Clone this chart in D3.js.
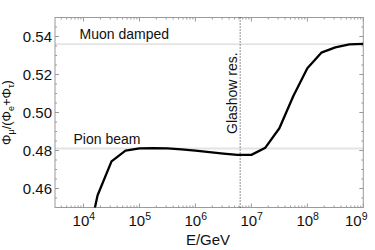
<!DOCTYPE html>
<html><head><meta charset="utf-8">
<script src="https://cdn.jsdelivr.net/npm/d3@7"></script>
<style>body{margin:0;background:#fff}svg{display:block}text{font-family:"Liberation Sans",Arial,sans-serif}</style>
</head><body>
<svg id="c" width="375" height="250"></svg>
<script>
// data: log10(E/GeV) and flux ratio
const logE = [4.0, 4.25, 4.5, 4.75, 5.0, 5.25, 5.5, 5.75, 6.0, 6.25, 6.5, 6.75, 7.0, 7.25, 7.5, 7.75, 8.0, 8.25, 8.5, 8.75, 9.0];
const ratio = [0.422, 0.4563, 0.4743, 0.4799, 0.4811, 0.4812, 0.4811, 0.4806, 0.4799, 0.4792, 0.4784, 0.4777, 0.4777, 0.4815, 0.4917, 0.5087, 0.5233, 0.5315, 0.5343, 0.5359, 0.5361];
const xTickExps = [4, 5, 6, 7, 8, 9];
const yTicks = [0.46, 0.48, 0.50, 0.52, 0.54];
const refLines = [{label: "Muon damped", value: 0.536}, {label: "Pion beam", value: 0.481}];
const glashowE = 6.3e6;
const glashowLabel = "Glashow res.";

const svg = d3.select("#c");
const L = 55, R = 363.3, T = 17.5, B = 207.5;
const x = d3.scaleLog().domain([Math.pow(10, 3.49), 1e9]).range([L, R]);
const y = d3.scaleLinear().domain([0.45, 0.55]).range([B, T]);

const defs = svg.append("defs");
defs.append("clipPath").attr("id", "clip").append("rect")
  .attr("x", L).attr("y", T).attr("width", R - L).attr("height", B - T);

// reference lines
svg.append("line").attr("x1", L).attr("x2", R)
  .attr("y1", y(refLines[1].value)).attr("y2", y(refLines[1].value))
  .attr("stroke", "#e4e4e4").attr("stroke-width", 2);
svg.append("line").attr("x1", L).attr("x2", R)
  .attr("y1", y(refLines[0].value)).attr("y2", y(refLines[0].value))
  .attr("stroke", "#cfcfcf").attr("stroke-width", 1);

// frame & ticks
const tickCol = "#9a9a9a";
const g = svg.append("g");
g.append("rect").attr("x", L).attr("y", T).attr("width", R - L).attr("height", B - T)
  .attr("fill", "none").attr("stroke", tickCol).attr("stroke-width", 1);

const xMinor = [];
for (let k = 3; k <= 8; k++) for (let m = 2; m <= 9; m++) { const v = m * Math.pow(10, k); if (v >= x.domain()[0] && v <= 1e9) xMinor.push(v); }
xMinor.forEach(v => {
  const px = x(v);
  g.append("line").attr("x1", px).attr("x2", px).attr("y1", B).attr("y2", B - 2).attr("stroke", tickCol);
  g.append("line").attr("x1", px).attr("x2", px).attr("y1", T).attr("y2", T + 2).attr("stroke", tickCol);
});
xTickExps.forEach(e => {
  const px = x(Math.pow(10, e));
  g.append("line").attr("x1", px).attr("x2", px).attr("y1", B).attr("y2", B - 4).attr("stroke", tickCol);
  g.append("line").attr("x1", px).attr("x2", px).attr("y1", T).attr("y2", T + 4).attr("stroke", tickCol);
});
const yMinor = d3.range(0.45, 0.5501, 0.005);
yMinor.forEach(v => {
  const py = y(v);
  g.append("line").attr("x1", L).attr("x2", L + 2).attr("y1", py).attr("y2", py).attr("stroke", tickCol);
  g.append("line").attr("x1", R).attr("x2", R - 2).attr("y1", py).attr("y2", py).attr("stroke", tickCol);
});
yTicks.forEach(v => {
  const py = y(v);
  g.append("line").attr("x1", L).attr("x2", L + 4).attr("y1", py).attr("y2", py).attr("stroke", tickCol);
  g.append("line").attr("x1", R).attr("x2", R - 4).attr("y1", py).attr("y2", py).attr("stroke", tickCol);
  svg.append("text").attr("x", L - 3).attr("y", py + 5.3).attr("text-anchor", "end")
    .attr("font-size", 15).attr("fill", "#111").text(d3.format(".2f")(v));
});

// x tick labels
xTickExps.forEach((e, i) => {
  const px = x(Math.pow(10, e));
  const t = svg.append("text").attr("y", 226).attr("font-size", 15).attr("fill", "#111");
  t.append("tspan").text("10");
  t.append("tspan").attr("font-size", 10.5).attr("dy", -6.5).text(e);
  if (i === xTickExps.length - 1) t.attr("x", 367.5).attr("text-anchor", "end");
  else t.attr("x", px + 0.3).attr("text-anchor", "middle");
});

svg.append("text").attr("x", 208).attr("y", 245).attr("text-anchor", "middle")
  .attr("font-size", 15).attr("fill", "#111").text("E/GeV");

// y label
const yl = svg.append("text").attr("transform", `translate(11,${(T + B) / 2}) rotate(-90)`)
  .attr("text-anchor", "middle").attr("font-size", 13).attr("fill", "#111");
yl.append("tspan").text("Φ");
yl.append("tspan").attr("font-size", 9).attr("dy", 3).text("μ");
yl.append("tspan").attr("dy", -3).text("/(Φ");
yl.append("tspan").attr("font-size", 9).attr("dy", 3).text("e");
yl.append("tspan").attr("dy", -3).text("+Φ");
yl.append("tspan").attr("font-size", 9).attr("dy", 3).text("τ");
yl.append("tspan").attr("dy", -3).text(")");

// ref labels
svg.append("text").attr("x", 79.5).attr("y", 38.7).attr("font-size", 14).attr("fill", "#111").text(refLines[0].label);
svg.append("text").attr("x", 73.5).attr("y", 143.5).attr("font-size", 14).attr("fill", "#111").text(refLines[1].label);

// Glashow
const gx = x(glashowE);
svg.append("line").attr("x1", gx).attr("x2", gx).attr("y1", T).attr("y2", B)
  .attr("stroke", "#222").attr("stroke-width", 1).attr("stroke-dasharray", "1,2");
svg.append("text").attr("transform", `translate(${gx - 3.3},134) rotate(-90)`)
  .attr("font-size", 14).attr("fill", "#111").text(glashowLabel);

// curve
const line = d3.line().x((d, i) => x(Math.pow(10, logE[i]))).y(d => y(d));
svg.append("path").attr("clip-path", "url(#clip)").datum(ratio).attr("d", line)
  .attr("fill", "none").attr("stroke", "#000").attr("stroke-width", 2.3).attr("stroke-linejoin", "round");
</script>
</body></html>
